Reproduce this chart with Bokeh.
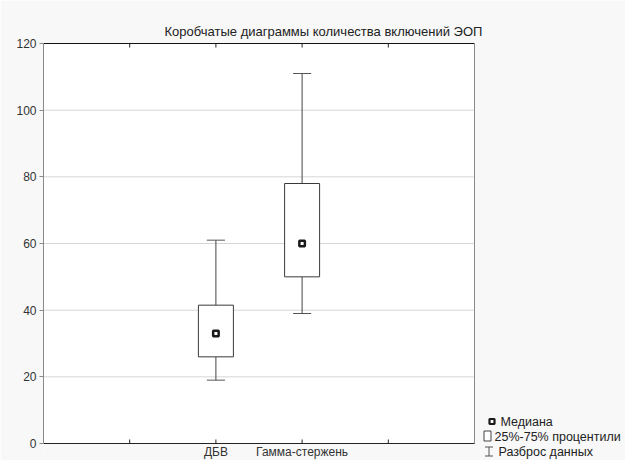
from bokeh.plotting import figure
from bokeh.models import FixedTicker, Range1d, ColumnDataSource
from bokeh.core.properties import value
from bokeh.embed import file_html
from bokeh.resources import INLINE

# ---- data ----
categories = ["ДБВ", "Гамма-стержень"]
mins = [19, 39]
q1 = [26, 50]
medians = [33, 60]
q3 = [41.5, 78]
maxs = [61, 111]
y_ticks = [0, 20, 40, 60, 80, 100, 120]
x_ticks = [1, 2, 3, 4]
title_text = "Коробчатые диаграммы количества включений ЭОП"
legend_labels = ["Медиана", "25%-75% процентили", "Разброс данных"]

FONT = "Liberation Sans"

# ---- layout helpers (canvas pixels -> data) ----
W, H = 625, 460
PL, PR, PT, PB = 43, 474, 43, 443   # plot-area edges in canvas px
X_SPAN, Y_SPAN = 5, 120


def xpx(px):
    return (px - PL) * X_SPAN / (PR - PL)


def ypx(py):
    return (PB - py) * Y_SPAN / (PB - PT)


xs = [i + 2 for i in range(len(categories))]
box_w = 0.406
cap_w = 0.21

src = ColumnDataSource(dict(x=xs, lo=mins, q1=q1, med=medians, q3=q3, hi=maxs,
                            left=[x - box_w / 2 for x in xs], right=[x + box_w / 2 for x in xs],
                            cl=[x - cap_w / 2 for x in xs], cr=[x + cap_w / 2 for x in xs]))

p = figure(width=W, height=H, output_backend="svg", toolbar_location=None,
           x_range=Range1d(0, xpx(W)), y_range=Range1d(ypx(H), ypx(PT - 1)),
           x_axis_location=None,
           min_border_left=PL, min_border_right=0, min_border_top=PT - 1, min_border_bottom=0)
p.background_fill_color = "#f8f8f8"
p.border_fill_color = "#f8f8f8"
p.outline_line_color = None
p.grid.visible = False

p.title.text = title_text
p.title.text_font = FONT
p.title.text_font_size = "13px"
p.title.text_font_style = "normal"
p.title.text_color = "#222222"
p.title.align = "left"
p.title.offset = 121
p.title.standoff = 8

# left axis
ya = p.yaxis[0]
ya.ticker = FixedTicker(ticks=y_ticks)
ya.bounds = (0, Y_SPAN)
ya.axis_line_color = "#8a8a8a"
ya.major_tick_line_color = "#8a8a8a"
ya.major_tick_out = 4
ya.major_tick_in = 0
ya.minor_tick_line_color = None
ya.major_label_text_font = FONT
ya.major_label_text_font_size = "12px"
ya.major_label_text_color = "#333333"
ya.major_label_standoff = 3

# plot area
p.quad(left=0, right=X_SPAN, bottom=0, top=Y_SPAN, fill_color="white", line_color=None)
gy = [t for t in y_ticks if 0 < t < Y_SPAN]
p.segment(x0=[0] * len(gy), y0=gy, x1=[X_SPAN] * len(gy), y1=gy, line_color="#d6d6d6", line_width=1)
# borders
p.segment(x0=[0], y0=[Y_SPAN], x1=[X_SPAN], y1=[Y_SPAN], line_color="#111111", line_width=1)
p.segment(x0=[X_SPAN], y0=[0], x1=[X_SPAN], y1=[Y_SPAN], line_color="#8a8a8a", line_width=1)
p.segment(x0=[0], y0=[0], x1=[X_SPAN], y1=[0], line_color="#222222", line_width=1)
tick_len = ypx(PB - 4)
p.segment(x0=x_ticks, y0=[0] * 4, x1=x_ticks, y1=[tick_len] * 4, line_color="#222222")
p.segment(x0=x_ticks, y0=[Y_SPAN] * 4, x1=x_ticks, y1=[Y_SPAN - tick_len] * 4, line_color="#222222")
# category labels
p.text(x=xs, y=[0] * len(xs), text=categories, text_font=value(FONT),
       text_font_size=value("12px"), text_color="#333333", text_align="center",
       text_baseline="top", y_offset=1)

# whiskers
p.segment(x0="x", y0="q3", x1="x", y1="hi", source=src, line_color="#444444", line_width=1)
p.segment(x0="x", y0="lo", x1="x", y1="q1", source=src, line_color="#444444", line_width=1)
p.segment(x0="cl", y0="hi", x1="cr", y1="hi", source=src, line_color="#555555", line_width=1)
p.segment(x0="cl", y0="lo", x1="cr", y1="lo", source=src, line_color="#555555", line_width=1)
# boxes
p.quad(left="left", right="right", bottom="q1", top="q3", source=src,
       fill_color="white", line_color="#3a3a3a", line_width=1)
# medians
p.scatter(x="x", y="med", source=src, marker="square", size=5.5,
          fill_color="white", line_color="#1a1a1a", line_width=2.5)

# ---- legend ----
p.scatter(x=[xpx(491.5)], y=[ypx(421)], marker="square", size=5,
          fill_color="white", line_color="#1a1a1a", line_width=2.2)
p.quad(left=[xpx(483.5)], right=[xpx(490.5)], bottom=[ypx(440.5)], top=[ypx(430.5)],
       fill_color="white", line_color="#444444", line_width=1)
ib_x, ib_l, ib_r, ib_t, ib_b = xpx(488.5), xpx(484.5), xpx(492.5), ypx(446.5), ypx(455.5)
p.segment(x0=[ib_x, ib_l, ib_l], y0=[ib_t, ib_t, ib_b], x1=[ib_x, ib_r, ib_r], y1=[ib_b, ib_t, ib_b],
          line_color="#555555", line_width=1)
p.text(x=[xpx(500), xpx(494), xpx(498)], y=[ypx(421), ypx(436), ypx(451)], text=legend_labels,
       text_font=value(FONT), text_font_size=value("12.5px"), text_color="#222222",
       text_align="left", text_baseline="middle")

open("out.html", "w").write(file_html(p, INLINE))
